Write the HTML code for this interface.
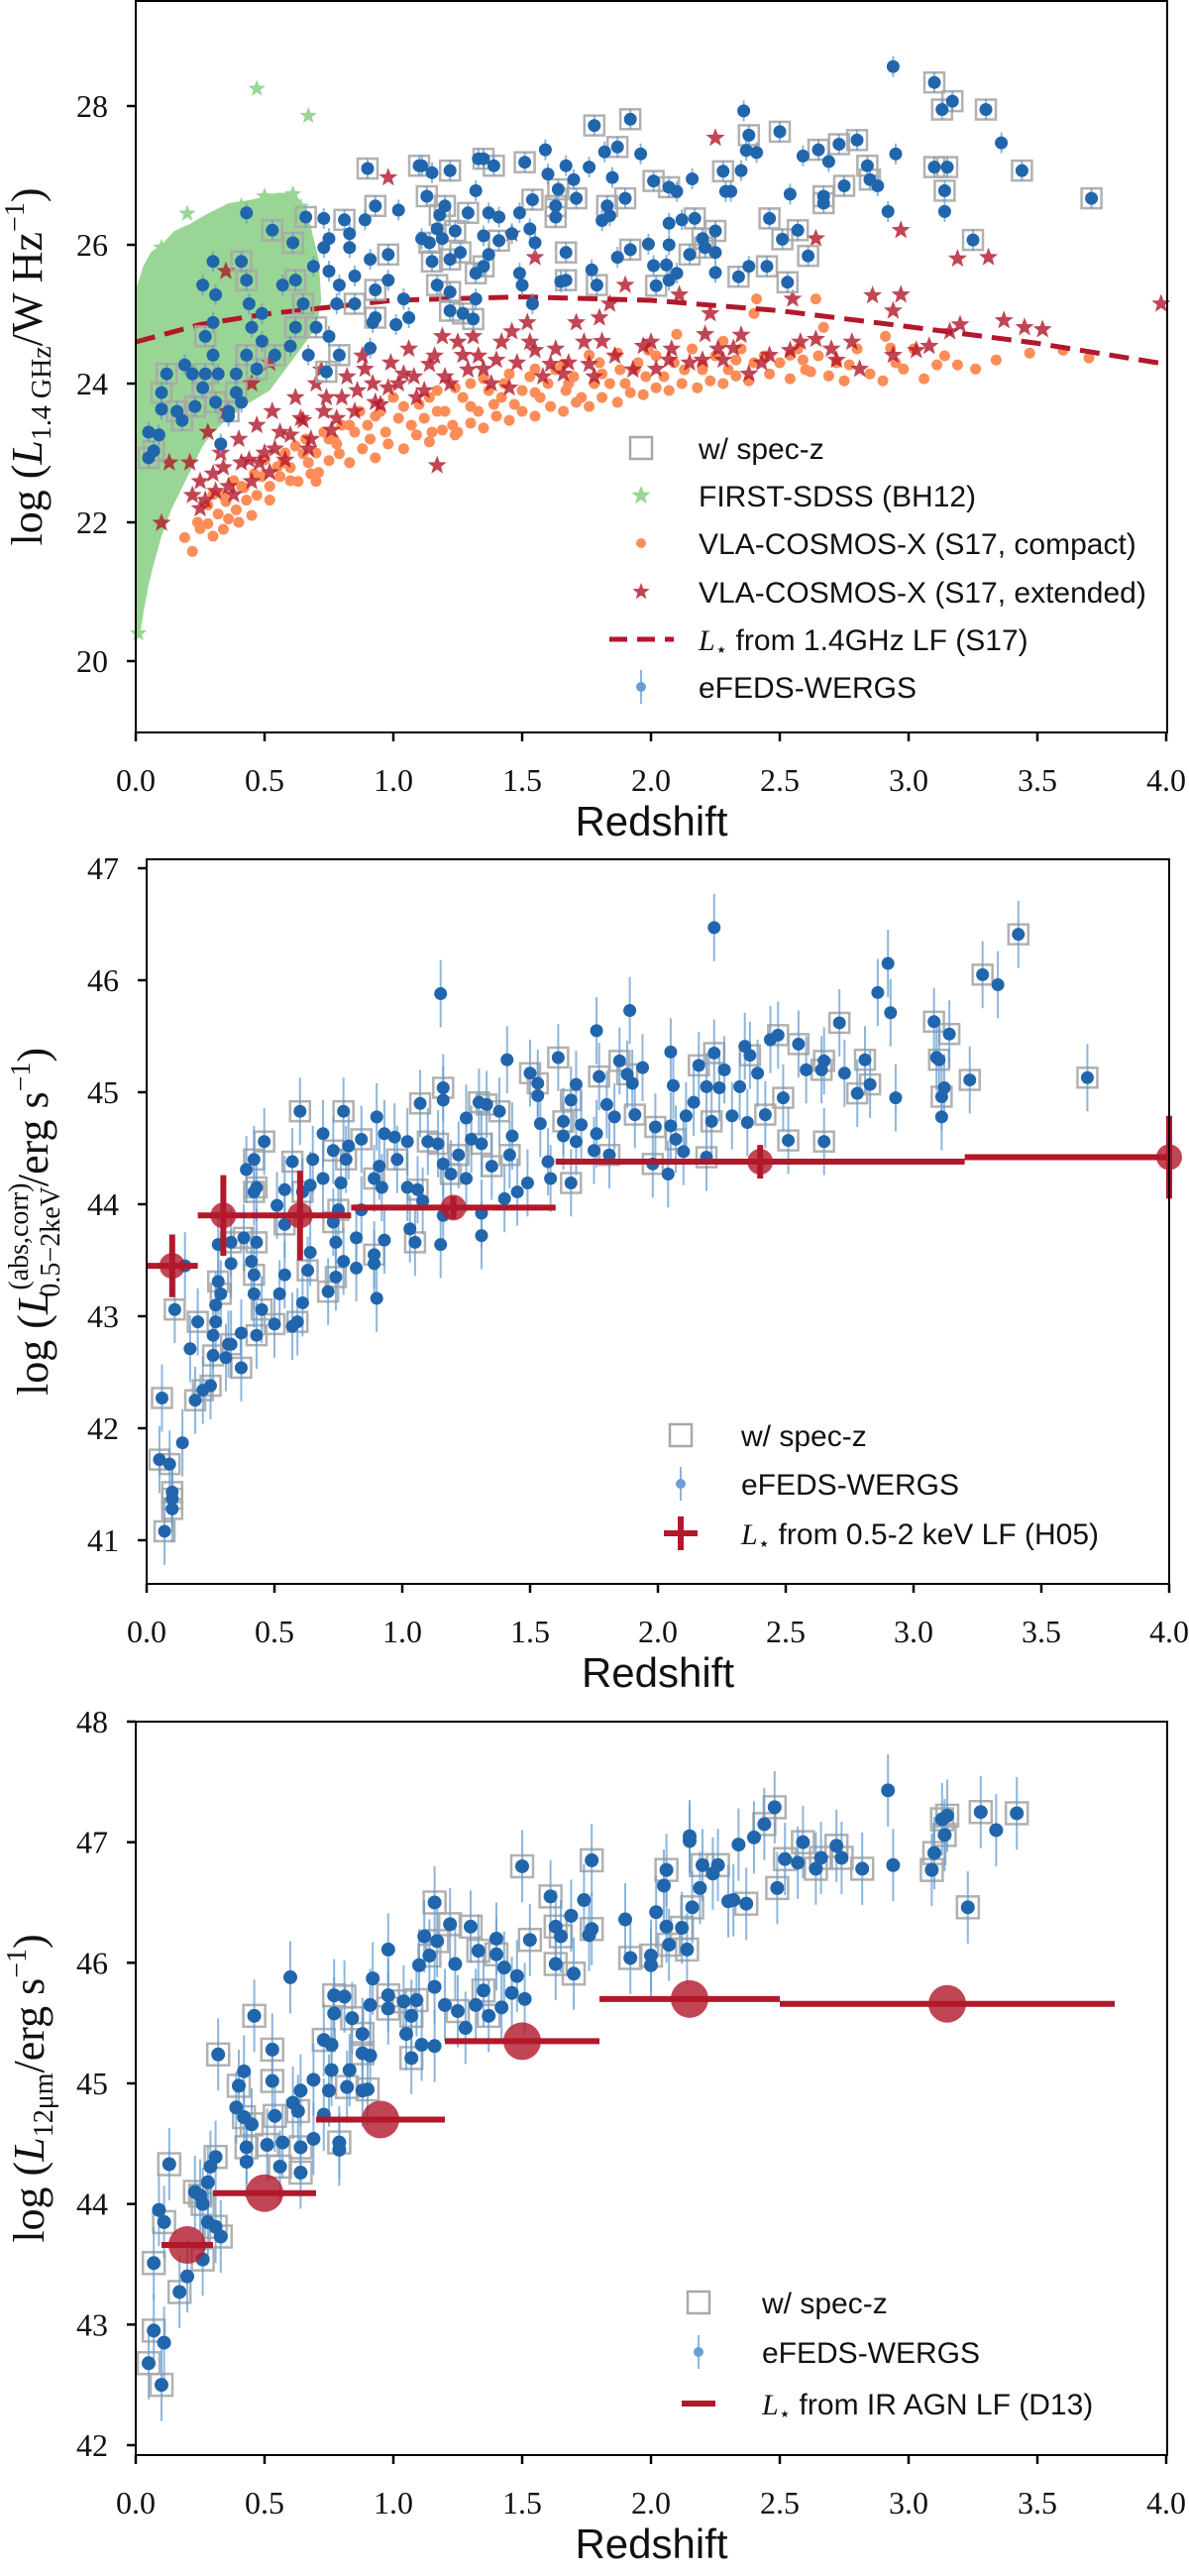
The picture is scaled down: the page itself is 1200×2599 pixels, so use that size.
<!DOCTYPE html>
<html><head><meta charset="utf-8">
<style>
html,body{margin:0;padding:0;background:#fff;}
svg{display:block;}
.tick{font-family:"Liberation Serif",serif;font-size:32px;fill:#111;}
.lab{font-family:"Liberation Sans",sans-serif;font-size:30px;fill:#111;}
.xl{font-family:"Liberation Sans",sans-serif;font-size:42px;fill:#111;}
.yl{font-family:"Liberation Serif",serif;font-size:44px;fill:#111;}
</style></head>
<body>
<svg id="fig" width="1200" height="2599" viewBox="0 0 1200 2599" xmlns="http://www.w3.org/2000/svg"></svg>
<script>
// ---------------- Panel 1 data (z, log L1.4GHz) ----------------
const p1z=[2.94,3.10,3.17,3.13,3.30,3.36,3.44,3.71,3.10,3.15,3.14,3.14,3.25,2.92,2.95,2.80,2.73,2.65,2.69,2.59,2.50,2.36,2.38,2.37,2.41,2.54,2.67,2.67,2.75,2.84,2.85,2.88,2.46,2.51,2.57,2.61,2.53,2.45,2.38,2.34,2.28,2.35,2.29,2.31,2.25,2.20,2.25,2.17,2.12,2.07,2.16,2.10,2.07,2.01,1.96,1.87,1.82,1.78,1.92,1.85,1.90,1.83,1.84,1.81,1.76,1.70,1.67,1.60,1.59,1.51,1.54,1.64,1.63,1.71,1.63,1.67,1.67,1.65,1.79,1.77,1.87,1.92,1.99,2.07,2.01,2.06,2.07,2.02,2.10,2.15,2.21,2.25,1.55,1.53,1.49,1.46,1.41,1.37,1.35,1.41,1.37,1.35,1.32,1.49,1.50,1.54,1.32,1.35,1.39,1.33,1.29,1.24,1.26,1.22,1.19,1.17,1.14,1.11,1.15,1.17,1.22,1.22,1.27,1.31,1.32,1.11,1.15,1.22,1.13,1.20,1.18,1.10,0.90,1.02,0.93,0.89,0.83,0.83,0.91,0.98,0.98,0.93,0.85,0.81,0.73,0.66,0.75,0.73,0.69,0.75,0.79,0.78,0.85,0.92,0.91,1.04,1.06,1.01,0.93,0.70,0.75,0.79,0.74,0.67,0.62,0.60,0.65,0.62,0.57,0.61,0.53,0.43,0.41,0.43,0.44,0.49,0.45,0.49,0.54,0.43,0.47,0.39,0.39,0.41,0.36,0.30,0.26,0.31,0.30,0.27,0.30,0.27,0.32,0.26,0.31,0.23,0.22,0.19,0.12,0.10,0.10,0.16,0.18,0.09,0.05,0.07,0.05,0.33,0.36];
const p1L=[28.57,28.34,28.07,27.95,27.95,27.47,27.07,26.67,27.12,27.12,26.78,26.48,26.07,26.48,27.31,27.51,27.45,27.37,27.2,27.28,27.63,27.93,27.58,27.36,27.33,26.73,26.7,26.6,26.85,27.14,26.94,26.85,26.38,26.08,26.21,25.84,25.46,25.69,25.69,25.54,27.06,27.07,26.77,26.77,26.2,26.09,25.6,26.38,26.36,26.31,26.95,26.77,26.83,26.92,27.31,27.41,27.34,27.72,27.81,26.97,26.67,26.56,26.42,26.35,27.12,26.94,27.14,27.02,27.37,27.19,26.65,26.8,26.56,26.67,26.4,25.89,25.49,25.47,25.42,25.64,25.82,25.93,26.01,26.0,25.7,25.71,25.49,25.41,25.59,25.86,25.96,25.89,26.03,26.23,26.46,26.16,26.4,26.46,26.13,26.06,25.86,25.69,25.59,25.59,25.42,25.15,26.78,27.24,27.14,27.24,26.46,26.2,25.89,25.79,26.09,26.23,26.03,26.09,25.76,25.42,25.32,25.05,25.01,24.93,25.22,27.14,27.04,27.07,26.7,26.56,26.43,27.14,27.1,26.5,26.56,26.36,26.16,25.96,25.79,25.86,25.49,25.35,25.55,26.36,26.38,26.4,26.09,25.96,25.69,25.62,25.42,25.15,25.15,24.88,24.51,25.22,24.95,24.85,24.95,24.81,24.68,24.41,24.17,24.41,24.81,24.54,25.15,25.49,25.42,26.03,26.21,26.46,25.76,25.49,25.15,25.01,24.81,24.61,24.41,24.41,24.21,24.14,23.87,23.73,23.6,25.76,25.42,25.28,24.88,24.68,24.41,24.14,24.14,23.94,23.73,23.67,24.14,24.27,24.14,23.87,23.63,23.6,23.47,23.26,23.3,23.03,22.93,23.13,23.53];
const p1spec=[0,1,1,1,1,0,1,1,1,1,1,0,1,0,0,1,1,1,0,0,1,0,1,0,0,0,1,1,1,1,1,0,1,1,1,1,1,1,0,1,1,0,0,0,1,1,0,1,0,0,0,0,1,1,0,1,0,1,1,0,1,1,0,0,0,0,0,0,0,1,1,1,1,1,1,1,1,0,1,0,0,1,0,0,0,0,0,1,0,1,1,0,0,0,0,0,0,0,0,1,0,1,1,0,0,0,0,1,1,0,1,1,1,1,0,0,1,0,1,1,1,1,1,1,0,0,0,1,1,1,1,1,1,0,1,0,0,0,0,1,0,1,0,1,0,1,0,0,0,0,0,0,1,0,0,0,0,0,1,1,0,1,1,0,1,0,1,1,0,1,1,0,1,1,0,0,0,0,1,1,1,0,1,0,1,0,0,0,0,1,0,1,0,1,1,1,0,0,1,1,0,1,1,0,0,1,1,0,0];
const p1err=0.15;
// FIRST-SDSS (BH12) dense region outline + isolated stars
const greenEdgeZ=[0,0.03,0.06,0.10,0.15,0.21,0.28,0.36,0.45,0.55,0.62,0.67,0.71,0.72,0.70,0.62,0.52,0.43,0.36,0.30,0.26,0.22,0.18,0.14,0.10,0.07,0.05,0.03,0.015,0];
const greenEdgeL=[25.35,25.7,25.9,26.0,26.2,26.3,26.45,26.6,26.65,26.75,26.75,26.4,25.8,25.2,24.8,24.4,23.9,23.7,23.5,23.3,23.1,22.8,22.5,22.2,21.8,21.4,21.1,20.7,20.35,20.3];
const greenOutZ=[0.47,0.67,0.61,0.56,0.41,0.10,0.04,0.01,0.20,0.50,0.64];
const greenOutL=[28.25,27.86,26.73,26.6,26.56,25.96,25.28,20.4,26.45,26.7,26.55];
// VLA-COSMOS-X compact
const orZ=[0.19,0.22,0.25,0.28,0.32,0.36,0.39,0.43,0.47,0.52,0.56,0.60,0.63,0.67,0.71,0.75,0.79,0.83,0.88,0.93,0.98,1.04,1.09,1.14,1.19,1.24,1.30,1.35,1.40,1.45,1.50,1.55,1.61,1.66,1.71,1.76,1.81,1.87,1.92,1.97,2.02,2.07,2.12,2.18,2.23,2.28,2.33,2.38,2.46,2.54,2.62,2.69,2.75,2.85,2.90,2.98,3.06,3.11,3.19,3.26,3.34,3.47,3.60,3.70,2.91,2.93,2.67,2.64,2.41,2.40,2.28,2.10,1.99,1.87,1.76,1.66,1.55,1.45,1.35,1.24,1.14,1.04,0.93,0.83,0.75,0.65,0.57,0.49,0.41,0.34,0.28,1.68,1.81,1.94,2.20,2.33,2.54,2.59,2.77,1.42,1.30,1.17,1.55,0.91,0.78,0.70,0.52,
0.24,0.30,0.35,0.38,0.42,0.46,0.50,0.55,0.58,0.62,0.66,0.70,0.73,0.77,0.80,0.85,0.87,0.90,0.95,0.97,1.00,1.02,1.07,1.10,1.12,1.17,1.20,1.23,1.27,1.30,1.33,1.37,1.39,1.43,1.47,1.50,1.53,1.57,1.60,1.63,1.67,1.70,1.73,1.78,1.80,1.84,1.88,1.90,1.95,1.98,2.02,2.05,2.09,2.13,2.16,2.20,2.25,2.30,2.35,2.40,2.44,2.50,2.57,2.60,2.65,2.72,2.80,2.95,3.02,3.14,1.15,1.25,0.60,0.68,0.45,0.40,0.34,0.30];
const orL=[21.78,21.58,21.91,22.25,22.12,22.05,22.18,22.32,22.39,22.52,22.66,22.79,22.59,22.86,22.72,22.89,22.99,22.86,23.06,22.93,23.13,23.06,23.26,23.16,23.33,23.26,23.43,23.36,23.53,23.47,23.6,23.53,23.67,23.6,23.73,23.67,23.8,23.73,23.87,23.84,23.94,23.9,24.0,23.94,24.04,24.0,24.11,24.04,24.14,24.07,24.17,24.11,24.04,24.14,24.04,24.21,24.07,24.27,24.27,24.21,24.34,24.44,24.48,24.37,24.68,24.51,24.81,25.22,25.22,25.01,24.61,24.71,24.48,24.44,24.41,24.28,24.21,24.14,24.07,23.94,23.8,23.67,23.53,23.4,23.2,22.99,22.86,22.66,22.52,22.39,21.98,24.0,24.14,24.21,24.27,24.34,24.41,24.34,24.27,23.8,23.67,23.6,23.87,23.2,23.13,22.59,22.32,
22.0,22.4,22.3,22.6,22.5,22.7,22.9,22.8,23.0,23.1,23.2,23.0,23.3,23.2,23.4,23.3,23.6,23.4,23.6,23.3,23.8,23.5,23.4,23.7,23.5,23.9,23.6,23.4,23.8,24.0,23.6,23.9,23.7,24.0,23.7,23.9,24.1,23.8,24.0,24.2,23.9,24.1,23.8,24.0,24.3,24.0,24.2,24.0,24.3,24.1,24.4,24.1,24.3,24.2,24.5,24.2,24.4,24.2,24.5,24.3,24.4,24.3,24.5,24.2,24.4,24.3,24.5,24.3,24.5,24.4,23.3,23.3,22.6,22.7,22.1,22.0,21.9,21.8];
// VLA-COSMOS-X extended
const exZ=[2.25,0.98,2.97,2.64,3.19,3.31,3.98,2.97,2.86,2.94,3.37,3.45,3.52,3.20,3.16,3.08,3.03,2.94,2.81,2.72,2.64,2.55,2.54,2.46,2.38,2.32,2.28,2.21,2.20,2.23,2.11,2.07,2.02,1.97,1.90,1.84,1.80,1.81,1.76,1.71,1.66,1.61,1.55,1.52,1.46,1.45,1.40,1.35,1.31,1.27,1.22,1.19,1.14,1.09,1.04,0.98,0.93,0.89,0.85,0.80,0.76,0.73,0.70,0.67,0.65,0.60,0.54,0.52,0.48,0.45,0.41,0.36,0.34,0.35,0.31,0.27,0.25,0.22,0.21,0.13,0.10,1.17,1.46,1.55,
0.25,0.30,0.33,0.38,0.40,0.44,0.47,0.50,0.53,0.56,0.58,0.62,0.64,0.68,0.72,0.74,0.78,0.82,0.86,0.88,0.92,0.95,0.99,1.02,1.06,1.08,1.12,1.16,1.20,1.25,1.29,1.33,1.38,1.42,1.48,1.53,1.58,1.63,1.68,1.74,1.78,1.86,1.93,2.00,2.08,2.15,2.26,2.35,2.43,2.58,2.70,2.78,0.28,0.35,0.45,0.52];
const exL=[27.54,26.97,26.21,26.09,25.8,25.82,25.15,25.28,25.27,25.05,24.91,24.81,24.78,24.85,24.75,24.54,24.48,24.41,24.21,24.34,24.64,25.22,24.48,24.41,24.14,24.51,24.34,24.71,24.34,25.01,25.28,24.34,24.21,24.54,25.42,25.15,24.95,24.61,24.28,24.88,24.14,24.28,24.48,24.88,24.75,23.94,24.34,24.21,24.68,24.41,24.0,24.68,24.28,23.8,24.14,23.94,23.73,24.21,23.6,23.8,23.33,23.6,24.0,23.06,23.47,23.26,23.06,22.72,22.86,22.59,22.86,22.52,22.79,25.62,22.45,22.32,22.59,22.39,22.86,22.86,21.99,22.82,26.16,25.82,
22.2,22.7,23.0,22.4,23.2,22.9,23.4,23.0,23.6,23.3,22.9,23.8,23.5,23.2,24.2,23.8,23.5,24.1,23.9,24.4,24.0,23.7,24.3,24.0,24.5,24.1,23.9,24.4,24.1,24.6,24.2,24.4,24.0,24.6,24.3,24.6,24.1,24.5,24.3,24.6,24.1,24.4,24.2,24.6,24.5,24.3,24.5,24.7,24.3,24.6,24.5,24.6,23.3,23.6,24.0,24.3];
// L* from 1.4GHz LF (S17)
const lsZ=[0,0.25,0.5,0.75,1.0,1.5,2.0,2.5,3.0,3.5,4.0];
const lsL=[24.6,24.85,25.0,25.1,25.2,25.25,25.2,25.05,24.82,24.58,24.28];

// ---------------- Panel 2 data (z, log L0.5-2keV) ----------------
const p2z=[2.22,1.15,1.89,1.76,3.41,3.27,3.33,2.90,2.86,2.91,2.71,3.08,3.14,3.10,3.09,3.22,3.68,3.12,3.11,3.11,2.93,2.83,2.78,2.81,2.73,2.65,2.64,2.58,2.55,2.47,2.44,2.36,2.34,2.39,2.49,2.42,2.51,2.65,2.35,2.32,2.29,2.24,2.22,2.26,2.19,2.16,2.14,2.11,2.21,2.06,2.05,2.05,2.07,2.10,2.19,1.99,2.04,1.98,1.94,1.91,1.90,1.88,1.85,1.83,1.80,1.77,1.76,1.75,1.81,1.68,1.66,1.63,1.63,1.70,1.68,1.61,1.53,1.50,1.53,1.54,1.57,1.66,1.58,1.49,1.45,1.41,1.43,1.42,1.40,1.33,1.38,1.30,1.27,1.25,1.31,1.35,1.22,1.25,1.31,1.31,1.16,1.16,1.07,1.10,1.14,1.16,1.19,1.15,1.16,1.02,0.98,0.97,0.90,0.93,0.91,0.89,0.92,1.02,1.06,1.08,1.03,1.05,0.93,0.89,0.89,0.90,0.82,0.84,0.82,0.77,0.84,0.79,0.78,0.73,0.76,0.75,0.73,0.74,0.77,0.74,0.71,0.69,0.69,0.65,0.64,0.61,0.57,0.60,0.54,0.54,0.51,0.64,0.63,0.61,0.59,0.57,0.54,0.52,0.50,0.46,0.42,0.39,0.43,0.42,0.43,0.38,0.33,0.28,0.33,0.41,0.42,0.42,0.45,0.43,0.37,0.33,0.32,0.31,0.26,0.37,0.28,0.29,0.27,0.20,0.26,0.17,0.25,0.22,0.19,0.06,0.14,0.11,0.05,0.09,0.10,0.10,0.10,0.07,0.27,0.15];
const p2L=[46.47,45.88,45.73,45.55,46.41,46.05,45.96,46.15,45.89,45.71,45.62,45.63,45.52,45.29,45.31,45.11,45.13,45.04,44.96,44.78,44.95,45.07,44.99,45.29,45.17,45.28,45.2,45.2,45.43,45.51,45.47,45.33,45.41,45.17,44.95,44.8,44.57,44.56,44.73,45.05,44.79,45.04,45.35,45.2,45.05,45.24,44.91,44.79,44.74,45.06,45.36,44.7,44.58,44.47,44.42,44.69,44.27,44.36,45.22,44.8,45.08,45.16,45.28,44.78,44.89,45.14,44.63,44.48,44.44,45.07,44.93,44.74,44.61,44.71,44.56,45.31,45.08,45.17,44.97,44.72,44.38,44.19,44.23,44.19,44.11,45.29,44.61,44.44,44.05,44.89,44.83,44.91,44.58,44.77,44.54,44.34,44.44,44.23,43.92,43.72,45.04,44.93,44.9,44.56,44.54,44.36,44.27,43.64,43.9,44.56,44.4,44.6,44.78,44.63,44.34,44.23,44.15,44.15,44.13,44.03,43.78,43.66,43.68,43.55,43.47,43.16,43.43,43.95,43.7,44.83,44.58,44.52,44.4,44.48,44.19,43.95,43.84,43.66,43.49,43.35,43.22,44.63,44.23,44.4,44.17,44.11,44.38,44.83,44.13,43.82,43.99,43.57,43.41,43.12,42.95,42.91,43.37,43.2,42.93,44.56,44.4,44.31,44.15,44.11,43.66,43.7,43.66,43.64,43.47,43.49,43.37,43.2,43.06,42.83,42.85,42.75,42.75,42.63,42.65,42.54,43.31,43.2,43.1,42.95,42.83,42.71,42.38,42.34,42.25,42.27,41.87,43.06,41.72,41.68,41.43,41.37,41.28,41.08,42.95,43.45];
const p2spec=[0,0,0,0,1,1,0,0,0,0,1,1,1,1,0,1,1,0,1,0,0,1,1,1,0,1,1,0,1,1,0,1,0,0,1,1,1,1,0,0,0,0,1,0,0,1,0,0,1,0,0,0,1,0,1,1,0,1,0,1,0,1,1,0,0,1,0,0,1,0,1,1,0,0,0,1,1,1,0,0,0,1,0,0,0,0,0,1,0,1,1,1,0,0,1,1,1,0,0,0,1,0,1,1,1,0,1,0,0,0,1,0,0,0,0,1,0,0,1,0,0,1,0,1,0,0,0,0,0,1,1,0,1,1,0,1,1,0,0,1,1,0,0,0,0,1,1,1,0,1,0,0,1,0,1,0,0,0,1,1,1,0,1,1,1,1,1,0,0,0,1,0,1,1,0,1,0,0,1,1,1,1,0,1,0,0,1,1,1,1,0,1,1,1,1,1,1,1,0,0,1];
const p2err=0.3;
// L* from 0.5-2 keV LF (H05)
const h05Z=[0.10,0.30,0.60,1.20,2.40,4.00];
const h05L=[43.45,43.9,43.9,43.97,44.38,44.42];
const h05Zlo=[0.0,0.2,0.4,0.8,1.6,3.2];
const h05Zhi=[0.2,0.4,0.8,1.6,3.2,4.8];
const h05Lerr=[0.28,0.36,0.40,0.10,0.15,0.37];

// ---------------- Panel 3 data (z, log L12um) ----------------
const p3z=[2.92,2.48,2.44,2.40,2.34,2.15,2.15,2.59,2.72,2.74,2.66,2.57,2.52,2.64,2.82,2.94,3.15,3.13,3.14,3.10,3.09,3.28,3.34,3.42,3.23,2.49,2.37,2.32,2.30,2.26,2.24,2.20,2.19,2.16,2.06,2.05,2.02,2.06,2.12,2.07,2.14,2.00,2.00,1.92,1.90,1.77,1.74,1.77,1.76,1.69,1.65,1.63,1.61,1.70,1.63,1.53,1.50,1.51,1.48,1.46,1.43,1.42,1.40,1.40,1.37,1.35,1.33,1.32,1.30,1.28,1.25,1.24,1.22,1.20,1.17,1.16,1.16,1.16,1.14,1.12,1.10,1.11,1.09,1.07,1.07,1.05,1.04,0.98,0.98,0.98,0.92,0.91,0.88,0.91,0.88,0.90,0.88,0.84,0.83,0.82,0.81,0.77,0.77,0.76,0.76,0.75,0.73,0.73,0.79,0.79,0.69,0.69,0.64,0.64,0.64,0.63,0.61,0.57,0.56,0.54,0.53,0.53,0.51,0.60,0.46,0.45,0.42,0.42,0.43,0.43,0.40,0.39,0.32,0.31,0.29,0.28,0.25,0.23,0.26,0.28,0.31,0.33,0.26,0.20,0.17,0.13,0.09,0.11,0.07,0.07,0.11,0.05,0.10];
const p3L=[47.43,47.29,47.15,47.04,46.98,47.05,47.01,47.0,46.97,46.87,46.87,46.83,46.86,46.78,46.78,46.81,47.22,47.19,47.06,46.91,46.77,47.25,47.1,47.24,46.46,46.62,46.49,46.52,46.51,46.81,46.74,46.81,46.62,46.46,46.77,46.64,46.42,46.3,46.29,46.15,46.11,46.06,45.98,46.04,46.36,46.85,46.52,46.28,46.23,46.39,46.22,46.3,46.55,45.91,45.99,46.19,46.8,45.7,45.89,45.75,45.96,45.63,46.2,46.07,45.56,45.77,46.1,45.65,46.3,45.46,45.6,45.99,46.32,45.65,46.18,45.8,46.5,45.31,46.06,46.22,45.98,45.32,45.69,45.56,45.21,45.41,45.68,46.11,45.73,45.62,45.87,45.65,45.41,45.23,45.25,44.95,44.94,45.54,45.11,44.97,45.72,45.73,45.58,45.32,45.11,44.94,45.36,44.74,44.45,44.51,45.03,44.54,44.94,44.47,44.26,44.77,44.84,44.51,44.31,44.73,45.28,45.02,44.49,45.88,45.56,44.66,45.1,44.72,44.47,44.35,44.98,44.8,45.24,44.39,44.31,44.18,44.07,44.1,44.0,43.85,43.81,43.73,43.54,43.4,43.27,44.33,43.95,43.85,43.51,42.95,42.85,42.68,42.5];
const p3spec=[0,1,1,0,0,0,0,1,1,1,1,0,1,1,1,0,1,1,1,1,1,1,0,1,1,1,1,0,0,1,0,1,0,1,1,0,0,0,1,1,1,1,0,1,0,1,0,1,0,0,1,1,1,1,1,1,1,0,0,0,0,0,0,1,1,1,1,0,1,0,1,0,1,0,1,0,1,0,1,0,0,0,1,1,1,0,1,0,1,1,0,0,1,0,1,1,0,1,0,1,1,1,0,0,0,0,1,0,0,1,0,0,0,1,1,1,0,0,1,1,1,1,1,0,1,1,0,1,1,0,1,0,1,1,0,0,1,1,1,0,1,1,1,0,1,1,0,1,1,1,0,1,1];
const p3err=0.3;
// L* from IR AGN LF (D13)
const d13Z=[0.20,0.50,0.95,1.50,2.15,3.15];
const d13L=[43.66,44.09,44.70,45.35,45.70,45.66];
const d13Zlo=[0.1,0.3,0.7,1.2,1.8,2.5];
const d13Zhi=[0.3,0.7,1.2,1.8,2.5,3.8];

// ---------------- drawing ----------------
const NS='http://www.w3.org/2000/svg';
const svg=document.getElementById('fig');
function mk(tag,attrs,parent){const e=document.createElementNS(NS,tag);for(const k in attrs)e.setAttribute(k,attrs[k]);(parent||svg).appendChild(e);return e;}
function grp(name){const g=mk('g',{});return g;}
function starPts(cx,cy,R){const r=R*0.42;let s=[];for(let i=0;i<10;i++){const a=-Math.PI/2+i*Math.PI/5;const rr=i%2?r:R;s.push((cx+rr*Math.cos(a)).toFixed(1)+','+(cy+rr*Math.sin(a)).toFixed(1));}return s.join(' ');}

const BLUE='#2166ac',EBLUE='rgba(103,158,208,0.75)',GRAY='#a8a8a8',RED='#b2182b',ORANGE='#fc8d59',GREEN='#99d594';

function axes(P,name,yticks,ylabelParts,ylabelX){
  const g=grp(name+'-axes');
  const fr=mk('rect',{x:P.x0,y:P.y0,width:P.x1-P.x0,height:P.y1-P.y0,fill:'none',stroke:'#000','stroke-width':2},g);
  
  for(let i=0;i<=8;i++){const z=i*0.5;const x=P.X(z);
    const t=mk('line',{x1:x,x2:x,y1:P.y1,y2:P.y1+9,stroke:'#000','stroke-width':2.5},g);
    
    const l=mk('text',{x:x,y:P.y1+59,'text-anchor':'middle',class:'tick'},g);l.textContent=z.toFixed(1);
    }
  yticks.forEach(v=>{const y=P.Y(v);
    const t=mk('line',{x1:P.x0-9,x2:P.x0,y1:y,y2:y,stroke:'#000','stroke-width':2.5},g);
    
    const l=mk('text',{x:P.x0-28,y:y+11,'text-anchor':'end',class:'tick'},g);l.textContent=v;
    });
  const xl=mk('text',{x:(P.x0+P.x1)/2,y:P.y1+104,'text-anchor':'middle',class:'xl'},g);xl.textContent='Redshift';
  
  const cy=(P.y0+P.y1)/2;
  const yl=mk('text',{x:ylabelX,y:cy,'text-anchor':'middle',class:'yl',transform:'rotate(-90 '+ylabelX+' '+cy+')'},g);
  
  ylabelParts.forEach(p=>{const ts=mk('tspan',p.a||{},yl);ts.textContent=p.t;});
}
function blueSeries(P,name,zs,Ls,spec,err,r,sq){
  const gs=grp(name+'-spec-z-squares');
  zs.forEach((z,i)=>{if(!spec[i])return;const x=P.X(z),y=P.Y(Ls[i]);
    const s=mk('rect',{x:x-sq/2,y:y-sq/2,width:sq,height:sq,fill:'none',stroke:GRAY,'stroke-width':2.5,opacity:0.9},gs);
    });
  const ge=grp(name+'-error-bars');
  zs.forEach((z,i)=>{const x=P.X(z);
    const e=mk('line',{x1:x,x2:x,y1:P.Y(Ls[i]-err),y2:P.Y(Ls[i]+err),stroke:EBLUE,'stroke-width':2},ge);
    });
  const gp=grp(name+'-efeds-points');
  zs.forEach((z,i)=>{const c=mk('circle',{cx:P.X(z),cy:P.Y(Ls[i]),r:r,fill:BLUE},gp);
    });
}
function legend(items,mx,tx,g){
  items.forEach(it=>{const y=it.y;
    if(it.k==='sq'){const m=mk('rect',{x:mx-11,y:y-11,width:22,height:22,fill:'none',stroke:GRAY,'stroke-width':2.5},g);}
    if(it.k==='gstar'){const m=mk('polygon',{points:starPts(mx,y,10),fill:GREEN},g);}
    if(it.k==='odot'){const m=mk('circle',{cx:mx,cy:y,r:5,fill:ORANGE},g);}
    if(it.k==='rstar'){const m=mk('polygon',{points:starPts(mx,y,9),fill:RED,opacity:0.8},g);}
    if(it.k==='dash'){const m=mk('line',{x1:mx-32,x2:mx+33,y1:y,y2:y,stroke:RED,'stroke-width':5,'stroke-dasharray':'18 10'},g);}
    if(it.k==='blue'){const m=mk('line',{x1:mx,x2:mx,y1:y-17,y2:y+17,stroke:EBLUE,'stroke-width':2},g);
      const c=mk('circle',{cx:mx,cy:y,r:5,fill:'#6a9fd0'},g);}
    if(it.k==='cross'){const m=mk('path',{d:`M${mx-17},${y}H${mx+17}M${mx},${y-17}V${y+17}`,stroke:RED,'stroke-width':6},g);}
    if(it.k==='bar'){const m=mk('line',{x1:mx-17,x2:mx+17,y1:y,y2:y,stroke:RED,'stroke-width':6},g);}
    const t=mk('text',{x:tx,y:y+11,class:'lab'},g);
    
    if(it.lstar){const a=mk('tspan',{'font-family':'Liberation Serif, serif','font-style':'italic'},t);a.textContent='L';
      const b=mk('tspan',{'font-size':'20px',dy:6},t);b.textContent='⋆';
      const c=mk('tspan',{dy:-6},t);c.textContent=' '+it.t;}
    else t.textContent=it.t;
  });
}

// ===== Panel 1 =====
const P1={x0:137,x1:1178,y0:1,y1:739,X:z=>137+z*260,Y:L=>387-(L-24)*70};
(function(){
  const P=P1;
  const gg=grp('first-sdss-points');
  const poly=mk('polygon',{points:greenEdgeZ.map((z,i)=>P.X(z)+','+P.Y(greenEdgeL[i])).join(' '),fill:GREEN},gg);
  
  greenOutZ.forEach((z,i)=>{const s=mk('polygon',{points:starPts(P.X(z),P.Y(greenOutL[i]),9),fill:GREEN},gg);
    });
  const go=grp('vla-compact-points');
  orZ.forEach((z,i)=>{const c=mk('circle',{cx:P.X(z),cy:P.Y(orL[i]),r:5.5,fill:ORANGE},go);
    });
  const gx=grp('vla-extended-points');
  exZ.forEach((z,i)=>{const s=mk('polygon',{points:starPts(P.X(z),P.Y(exL[i]),10),fill:RED,opacity:0.8},gx);
    });
  const gl=grp('lstar-1p4ghz-curve');
  let d='';lsZ.forEach((z,i)=>{d+=(i?'L':'M')+P.X(z).toFixed(1)+','+P.Y(lsL[i]).toFixed(1);});
  const pl=mk('path',{d:d,fill:'none',stroke:RED,'stroke-width':5,'stroke-dasharray':'20 10'},gl);
  
  blueSeries(P,'panel1',p1z,p1L,p1spec,p1err,6.5,20);
  axes(P,'panel1',[20,22,24,26,28],[
    {t:'log ('},{t:'L',a:{'font-style':'italic'}},{t:'1.4 GHz',a:{'font-size':'28px',dy:9}},{t:'/W Hz',a:{dy:-9}},{t:'−1',a:{'font-size':'28px',dy:-18}},{t:')',a:{dy:18}}],42);
  const lg=grp('panel1-legend');
  legend([{y:452,k:'sq',t:'w/  spec-z'},{y:500,k:'gstar',t:'FIRST-SDSS (BH12)'},{y:548,k:'odot',t:'VLA-COSMOS-X (S17, compact)'},
    {y:597,k:'rstar',t:'VLA-COSMOS-X (S17, extended)'},{y:645,k:'dash',lstar:true,t:'from 1.4GHz LF (S17)'},{y:693,k:'blue',t:'eFEDS-WERGS'}],647,705,lg);
})();

// ===== Panel 2 =====
const P2={x0:148,x1:1180,y0:867,y1:1598,X:z=>148+z*258,Y:L=>1554-(L-41)*113};
(function(){
  const P=P2;
  blueSeries(P,'panel2',p2z,p2L,p2spec,p2err,6.5,20);
  const gr=grp('h05-lstar-points');
  h05Z.forEach((z,i)=>{const x=P.X(z),y=P.Y(h05L[i]);
    const h=mk('line',{x1:P.X(h05Zlo[i]),x2:Math.min(P.X(h05Zhi[i]),P.x1),y1:y,y2:y,stroke:RED,'stroke-width':6},gr);
    
    const v=mk('line',{x1:x,x2:x,y1:P.Y(h05L[i]-h05Lerr[i]),y2:P.Y(h05L[i]+h05Lerr[i]),stroke:RED,'stroke-width':6},gr);
    
    const c=mk('circle',{cx:x,cy:y,r:13,fill:RED,opacity:0.8},gr);
    });
  axes(P,'panel2',[41,42,43,44,45,46,47],[
    {t:'log ('},{t:'L',a:{'font-style':'italic'}},{t:'(abs,corr)',a:{'font-size':'28px',dy:-20}},{t:'0.5−2keV',a:{'font-size':'28px',dx:-115,dy:32}},{t:'/erg s',a:{dy:-12}},{t:'−1',a:{'font-size':'28px',dy:-18}},{t:')',a:{dy:18}}],48);
  const lg=grp('panel2-legend');
  legend([{y:1448,k:'sq',t:'w/  spec-z'},{y:1497,k:'blue',t:'eFEDS-WERGS'},{y:1547,k:'cross',lstar:true,t:'from 0.5-2 keV LF (H05)'}],687,748,lg);
})();

// ===== Panel 3 =====
const P3={x0:137,x1:1178,y0:1737,y1:2477,X:z=>137+z*260,Y:L=>2467-(L-42)*121.67};
(function(){
  const P=P3;
  blueSeries(P,'panel3',p3z,p3L,p3spec,p3err,7,22);
  const gr=grp('d13-lstar-points');
  d13Z.forEach((z,i)=>{const y=P.Y(d13L[i]);
    const h=mk('line',{x1:P.X(d13Zlo[i]),x2:P.X(d13Zhi[i]),y1:y,y2:y,stroke:RED,'stroke-width':6},gr);
    
    const c=mk('circle',{cx:P.X(z),cy:y,r:19,fill:RED,opacity:0.8},gr);
    });
  axes(P,'panel3',[42,43,44,45,46,47,48],[
    {t:'log ('},{t:'L',a:{'font-style':'italic'}},{t:'12μm',a:{'font-size':'28px',dy:9}},{t:'/erg s',a:{dy:-9}},{t:'−1',a:{'font-size':'28px',dy:-18}},{t:')',a:{dy:18}}],44);
  const lg=grp('panel3-legend');
  legend([{y:2323,k:'sq',t:'w/  spec-z'},{y:2373,k:'blue',t:'eFEDS-WERGS'},{y:2425,k:'bar',lstar:true,t:'from IR AGN LF (D13)'}],705,769,lg);
})();
</script>
</body></html>
